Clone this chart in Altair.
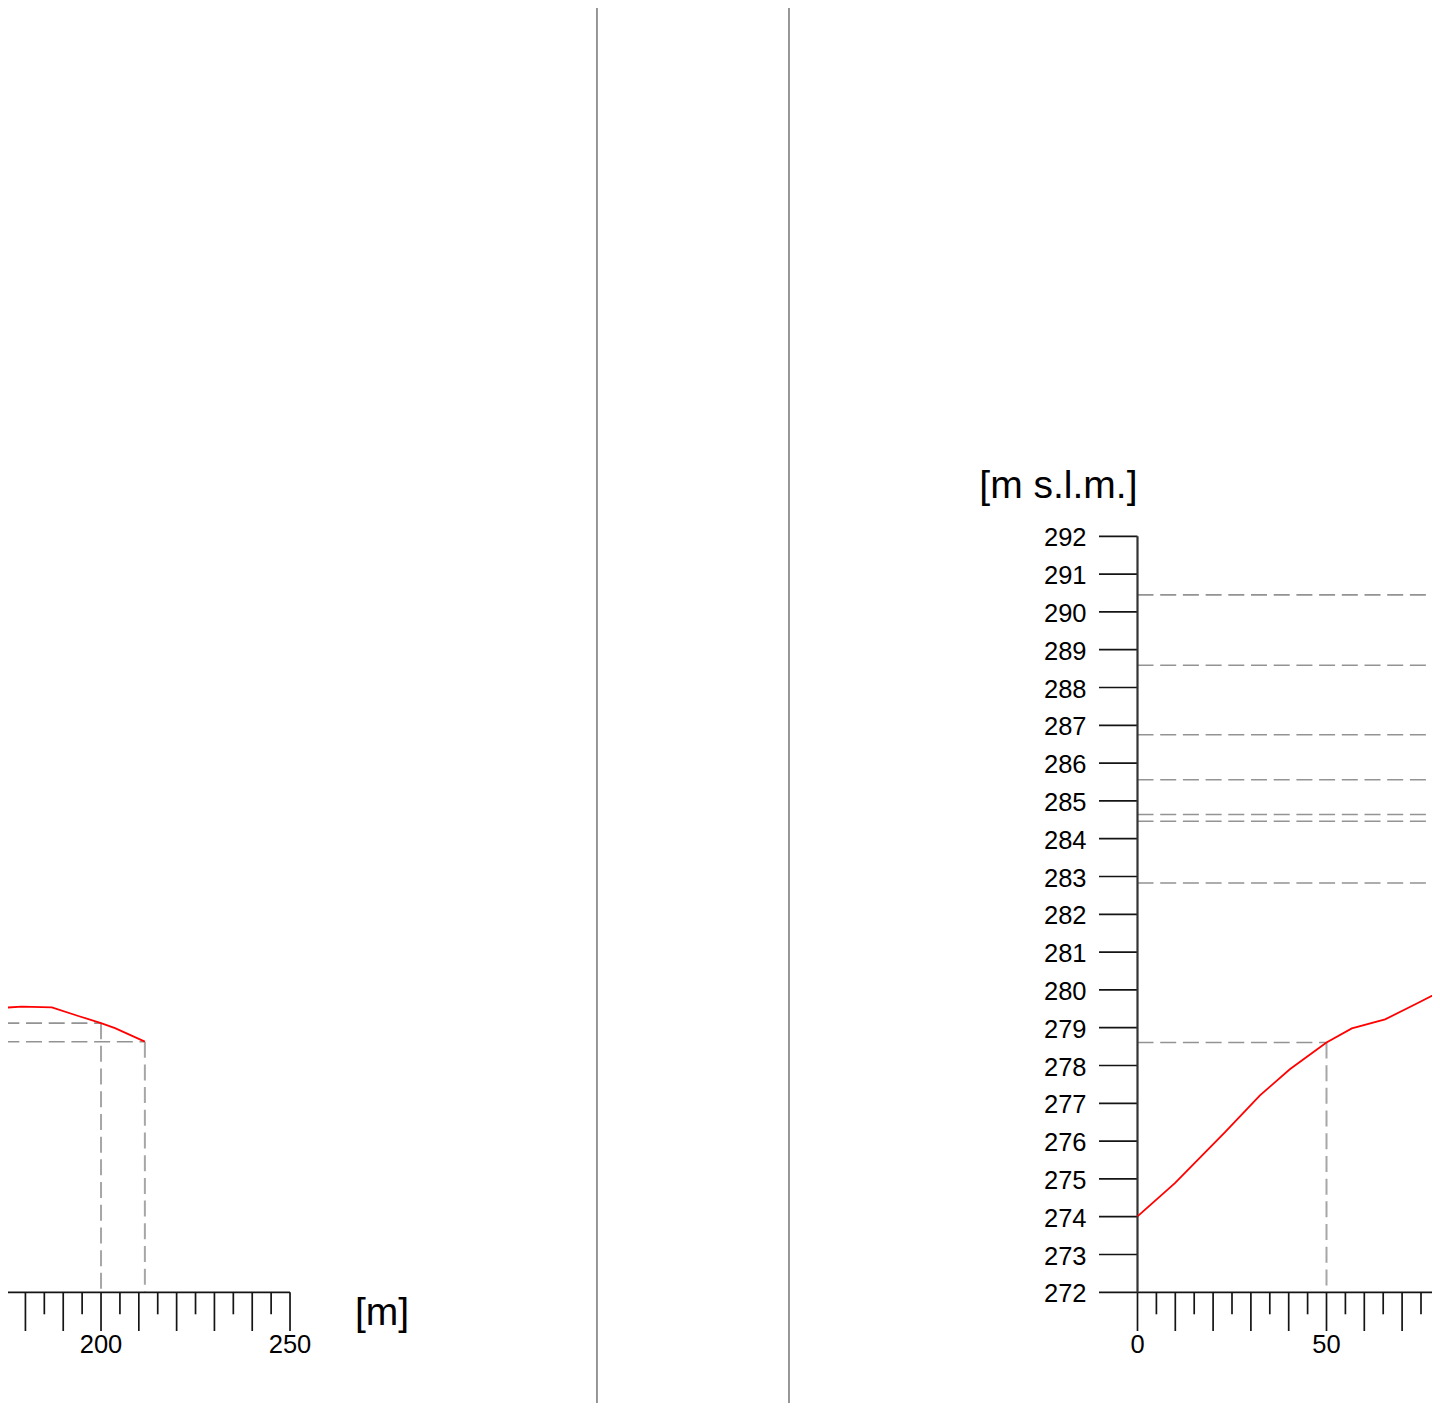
import altair as alt
import pandas as pd

# ---------------- data ----------------
# right profile: progressive distance [m] and elevation [m s.l.m.]
R_DIST = [0.0, 9.9, 23.1, 32.4, 40.3, 50.0, 56.7, 65.5, 73.9, 80.0]
R_ELEV = [274.01, 274.89, 276.23, 277.21, 277.90, 278.61, 278.98, 279.22, 279.64, 279.95]
# section stations of the right profile (dashed reference lines)
R_STATION_DIST = [50, 100, 150, 200, 250, 300, 350, 400]
R_STATION_ELEV = [278.61, 282.83, 284.46, 284.64, 285.56, 286.75, 288.59, 290.45]
R_AXIS_END = 400

# left profile (only its final stretch is visible)
L_DIST = [173.3, 179.0, 187.0, 194.0, 200.0, 203.7, 211.6]
L_ELEV = [279.52, 279.56, 279.54, 279.31, 279.12, 278.99, 278.63]
L_STATION_DIST = [200.0, 211.6]
L_STATION_ELEV = [279.12, 278.63]
L_AXIS_END = 250

DATUM = 272
Y_TICKS = list(range(272, 293))
X_TICK_STEP = 5
X_MAJOR_STEP = 10
X_LABEL_STEP = 50

Y_TITLE = "[m s.l.m.]"
X_TITLE = "[m]"

# sheet frame borders (in the right profile's distance units)
FRAME_X = [-143.0, -92.2]
# distance between the two profiles' origins on the drawing [m]
L_SHIFT = 474.2

# ---------------- layout / scales ----------------
W, H = 1424, 1395
KX, KY = 3.78, 37.8            # px per metre (x) and per metre of elevation (y)
X_ORIGIN_PX = 1129.5           # plot px of right profile distance 0
Y_DATUM_PX = 1284.3            # plot px of the datum elevation
x_dom = [-X_ORIGIN_PX / KX, (W - X_ORIGIN_PX) / KX]
y_dom = [DATUM - (H - Y_DATUM_PX) / KY, DATUM + Y_DATUM_PX / KY]

xs = alt.Scale(domain=x_dom, nice=False, zero=False)
ys = alt.Scale(domain=y_dom, nice=False, zero=False)

FONT = "Liberation Sans"
AXIS_COLOR = "#141414"
DASH_COLOR = "#939393"
LABEL_SIZE = 25.5
TITLE_SIZE = 39


def X(f="u"):
    return alt.X(f"{f}:Q", scale=xs, axis=None)


def Y(f="z"):
    return alt.Y(f"{f}:Q", scale=ys, axis=None)


def visible(df, margin=0.0):
    return df[(df["u"] >= x_dom[0] - margin) & (df["u"] <= x_dom[1] + margin)]


# ---------------- tables ----------------
profile_r = pd.DataFrame({"u": R_DIST, "z": R_ELEV})
profile_l = pd.DataFrame({"u": [d - L_SHIFT for d in L_DIST], "z": L_ELEV})

h_rows, v_rows = [], []
for d, z in zip(R_STATION_DIST, R_STATION_ELEV):
    h_rows.append({"u": 0.0, "u2": d, "z": z})
    v_rows.append({"u": d, "z": z, "z2": DATUM})
for d, z in zip(L_STATION_DIST, L_STATION_ELEV):
    h_rows.append({"u": 0.0 - L_SHIFT, "u2": d - L_SHIFT, "z": z})
    v_rows.append({"u": d - L_SHIFT, "z": z, "z2": DATUM})
hdash = pd.DataFrame(h_rows)
vdash = visible(pd.DataFrame(v_rows))

axis_h = pd.DataFrame({
    "u": [0.0 - L_SHIFT, 0.0],
    "u2": [L_AXIS_END - L_SHIFT, R_AXIS_END],
    "z": [DATUM, DATUM],
})
axis_v = pd.DataFrame({"u": [0.0], "z": [DATUM], "z2": [Y_TICKS[-1]]})

tick_rows = []
for shift, end in [(L_SHIFT, L_AXIS_END), (0.0, R_AXIS_END)]:
    for d in range(0, end + 1, X_TICK_STEP):
        tick_rows.append({
            "u": d - shift, "z": DATUM,
            "major": d % X_MAJOR_STEP == 0,
            "label": str(d) if d % X_LABEL_STEP == 0 else "",
        })
xticks = visible(pd.DataFrame(tick_rows))
xmajor = xticks[xticks["major"]]
xminor = xticks[~xticks["major"]]
xlabels = xticks[xticks["label"] != ""]
xlabels = xlabels[(xlabels["u"] >= x_dom[0] + 6) & (xlabels["u"] <= x_dom[1] - 6)]

yticks = pd.DataFrame({"u": [0.0] * len(Y_TICKS), "z": Y_TICKS,
                       "label": [str(t) for t in Y_TICKS]})

frames = pd.DataFrame({"u": FRAME_X})
ytitle = pd.DataFrame({"u": [0.0], "z": [Y_TICKS[-1]], "t": [Y_TITLE]})
xtitle = pd.DataFrame({"u": [L_AXIS_END - L_SHIFT], "z": [DATUM], "t": [X_TITLE]})

# ---------------- layers ----------------
frame_layer = alt.Chart(frames).mark_rule(color="#858585", strokeWidth=1.7).encode(x=X())

hdash_layer = alt.Chart(hdash).mark_rule(
    color=DASH_COLOR, strokeWidth=1.6, strokeDash=[16, 6.7], clip=True
).encode(x=X(), x2=alt.X2("u2:Q"), y=Y())

vdash_layer = alt.Chart(vdash).mark_rule(
    color="#a6a6a6", strokeWidth=2, strokeDash=[16, 6.7], clip=True
).encode(x=X(), y=Y(), y2=alt.Y2("z2:Q"))

axis_h_layer = alt.Chart(axis_h).mark_rule(
    color=AXIS_COLOR, strokeWidth=1.7, clip=True
).encode(x=X(), x2=alt.X2("u2:Q"), y=Y())

axis_v_layer = alt.Chart(axis_v).mark_rule(
    color="#333333", strokeWidth=2.2
).encode(x=X(), y=Y(), y2=alt.Y2("z2:Q"))

xmajor_layer = alt.Chart(xmajor).mark_rule(
    color=AXIS_COLOR, strokeWidth=1.7, y2Offset=38.7, clip=True
).encode(x=X(), y=Y(), y2=alt.Y2("z:Q"))

xminor_layer = alt.Chart(xminor).mark_rule(
    color=AXIS_COLOR, strokeWidth=1.7, y2Offset=22, clip=True
).encode(x=X(), y=Y(), y2=alt.Y2("z:Q"))

xlabel_layer = alt.Chart(xlabels).mark_text(
    font=FONT, fontSize=LABEL_SIZE, color="#000000", align="center",
    baseline="alphabetic", dy=60.6
).encode(x=X(), y=Y(), text="label:N")

ytick_layer = alt.Chart(yticks).mark_rule(
    color=AXIS_COLOR, strokeWidth=1.7, x2Offset=-38.5
).encode(x=X(), x2=alt.X2("u:Q"), y=Y())

ylabel_layer = alt.Chart(yticks).mark_text(
    font=FONT, fontSize=LABEL_SIZE, color="#000000", align="right",
    baseline="alphabetic", dx=-51, dy=10
).encode(x=X(), y=Y(), text="label:N")

ytitle_layer = alt.Chart(ytitle).mark_text(
    font=FONT, fontSize=TITLE_SIZE, color="#000000", align="right",
    baseline="alphabetic", dx=0, dy=-38
).encode(x=X(), y=Y(), text="t:N")

xtitle_layer = alt.Chart(xtitle).mark_text(
    font=FONT, fontSize=TITLE_SIZE, color="#000000", align="left",
    baseline="alphabetic", dx=65, dy=33
).encode(x=X(), y=Y(), text="t:N")

line_r = alt.Chart(profile_r).mark_line(color="#ff0000", strokeWidth=1.8, clip=True).encode(
    x=X(), y=Y(), order="u:Q")
line_l = alt.Chart(profile_l).mark_line(color="#ff0000", strokeWidth=1.8, clip=True).encode(
    x=X(), y=Y(), order="u:Q")

chart = alt.layer(
    frame_layer, hdash_layer, vdash_layer,
    axis_h_layer, xmajor_layer, xminor_layer, xlabel_layer,
    ytick_layer, axis_v_layer, ylabel_layer,
    ytitle_layer, xtitle_layer,
    line_l, line_r,
).properties(
    width=W, height=H,
    autosize=alt.AutoSizeParams(type="none"),
    padding=0,
    background="white",
).configure_view(stroke=None)

chart.save("out.html", embed_options={"renderer": "svg", "actions": False})
